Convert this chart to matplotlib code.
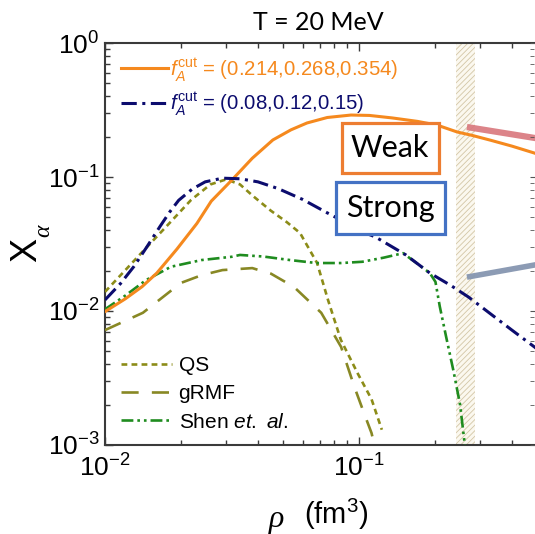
import matplotlib
matplotlib.use("Agg")
import matplotlib.pyplot as plt
from matplotlib.patches import Rectangle
from matplotlib.ticker import LogLocator, NullFormatter

# ---------------- data ----------------
rho_weak = [0.0100, 0.0120, 0.0140, 0.0160, 0.0192, 0.0230, 0.0262, 0.0316, 0.0380, 0.0458,
            0.0540, 0.0624, 0.0750, 0.0930, 0.1100, 0.1350, 0.1700, 0.2030, 0.2430, 0.2800,
            0.3300, 0.4000, 0.4900, 0.6000]
X_weak = [0.0099, 0.0123, 0.0152, 0.0192, 0.0290, 0.0450, 0.0660, 0.0950, 0.1380, 0.1890,
          0.2250, 0.2530, 0.2780, 0.2900, 0.2880, 0.2760, 0.2600, 0.2440, 0.2170, 0.2040,
          0.1880, 0.1700, 0.1510, 0.1300]

rho_strong = [0.0100, 0.0115, 0.0130, 0.0146, 0.0165, 0.0180, 0.0195, 0.0220, 0.0248, 0.0290,
              0.0340, 0.0400, 0.0480, 0.0600, 0.0750, 0.0900, 0.1030, 0.1160, 0.1530, 0.1900,
              0.2300, 0.2700, 0.3300, 0.4000, 0.4900, 0.6000]
X_strong = [0.0121, 0.0160, 0.0215, 0.0300, 0.0430, 0.0550, 0.0670, 0.0810, 0.0920, 0.0980,
            0.0970, 0.0920, 0.0820, 0.0680, 0.0540, 0.0450, 0.0390, 0.0357, 0.0262, 0.0192,
            0.0155, 0.0127, 0.0095, 0.0072, 0.0054, 0.0040]

rho_qs = [0.0100, 0.0120, 0.0145, 0.0170, 0.0195, 0.0218, 0.0260, 0.0300, 0.0340, 0.0383,
          0.0450, 0.0520, 0.0586, 0.0684, 0.0755, 0.0848, 0.0990, 0.1120, 0.1230]
X_qs = [0.0139, 0.0201, 0.0295, 0.0406, 0.0536, 0.0673, 0.0880, 0.0960, 0.0880, 0.0720,
        0.0560, 0.0460, 0.0382, 0.0228, 0.0121, 0.0061, 0.0034, 0.0022, 0.0013]

rho_grmf = [0.0100, 0.0141, 0.0199, 0.0240, 0.0290, 0.0380, 0.0450, 0.0555, 0.0710, 0.0850,
            0.0960, 0.1050, 0.1120, 0.1150]
X_grmf = [0.0072, 0.0097, 0.0162, 0.0185, 0.0202, 0.0209, 0.0190, 0.0151, 0.0097, 0.0054,
          0.0027, 0.0017, 0.00123, 0.00100]

rho_shen = [0.0100, 0.0120, 0.0145, 0.0182, 0.0240, 0.0316, 0.0340, 0.0420, 0.0535, 0.0680,
            0.0850, 0.1030, 0.1250, 0.1490, 0.1700, 0.1900, 0.2000, 0.2080, 0.2200, 0.2360,
            0.2500, 0.2610]
X_shen = [0.0103, 0.0130, 0.0170, 0.0214, 0.0240, 0.0254, 0.0262, 0.0255, 0.0240, 0.0228,
          0.0228, 0.0233, 0.0250, 0.0270, 0.0225, 0.0192, 0.0165, 0.0108, 0.0065, 0.0035,
          0.0020, 0.0010]

band_rho = (0.241, 0.286)            # hatched density band
link_pink_rho = [0.266, 0.60]
link_pink_X = [0.236, 0.184]
link_gray_rho = [0.266, 0.60]
link_gray_X = [0.0179, 0.0236]

x_major_ticks = [1e-2, 1e-1]
label_weak = r"$f_A^{\mathrm{cut}}$ = (0.214,0.268,0.354)"
label_strong = r"$f_A^{\mathrm{cut}}$ = (0.08,0.12,0.15)"
label_qs = "QS"
label_grmf = "gRMF"
label_shen = r"Shen $\mathit{et.\ al.}$"
title_text = "T = 20 MeV"

# ---------------- style ----------------
plt.rcParams["font.family"] = ["Liberation Sans", "DejaVu Sans"]
plt.rcParams["mathtext.fontset"] = "custom"
plt.rcParams["mathtext.rm"] = "Liberation Sans"
plt.rcParams["mathtext.it"] = "Liberation Sans:italic"
plt.rcParams["mathtext.bf"] = "Liberation Sans:bold"
plt.rcParams["hatch.linewidth"] = 0.6

C_ORANGE = "#f5891e"
C_NAVY = "#0c0c6e"
C_QS = "#8c8c18"
C_GRMF = "#888824"
C_SHEN = "#1f8c1f"
C_SPINE = "#3a3a3a"

W, H = 535, 534
fig = plt.figure(figsize=(W / 100, H / 100), dpi=100)
ax = fig.add_axes([105 / W, 89 / H, 508 / W, 402 / H])
ax.set_xscale("log")
ax.set_yscale("log")
ax.set_xlim(1e-2, 1e0)
ax.set_ylim(1e-3, 1e0)

ax.axvspan(band_rho[0], band_rho[1], facecolor="#fbf8ef", edgecolor="#d3c6a6",
           hatch="//////", linewidth=0, zorder=1)

l1, = ax.plot(rho_weak, X_weak, color=C_ORANGE, lw=2.2, zorder=4, label=label_weak)
l2, = ax.plot(rho_strong, X_strong, color=C_NAVY, lw=2.2, zorder=4,
              linestyle=(0, (5.0, 1.8, 1.0, 1.8)), label=label_strong)
l3, = ax.plot(rho_qs, X_qs, color=C_QS, lw=1.9, zorder=3,
              linestyle=(0, (2.2, 1.6)), label=label_qs)
l4, = ax.plot(rho_grmf, X_grmf, color=C_GRMF, lw=1.9, zorder=3,
              linestyle=(0, (6.5, 5.0)), label=label_grmf)
l5, = ax.plot(rho_shen, X_shen, color=C_SHEN, lw=1.9, zorder=3,
              linestyle=(0, (4.5, 1.5, 1.0, 1.5, 1.0, 1.5)), label=label_shen)

ax.plot(link_pink_rho, link_pink_X, color="#d9777c", lw=4.5, alpha=0.9,
        solid_capstyle="butt", zorder=5)
ax.plot(link_gray_rho, link_gray_X, color="#8696b0", lw=4.0, alpha=0.95,
        solid_capstyle="butt", zorder=5)

for s in ax.spines.values():
    s.set_color(C_SPINE)
    s.set_linewidth(1.5)
ax.set_xticks(x_major_ticks)
ax.xaxis.set_minor_locator(LogLocator(base=10, subs=range(2, 10), numticks=20))
ax.yaxis.set_minor_locator(LogLocator(base=10, subs=range(2, 10), numticks=20))
ax.xaxis.set_minor_formatter(NullFormatter())
ax.yaxis.set_minor_formatter(NullFormatter())
ax.tick_params(which="both", direction="in", top=True, right=False, color=C_SPINE,
               labelsize=19, width=1.0)
ax.tick_params(which="major", length=6)
ax.tick_params(which="minor", length=3.5)
ax.tick_params(axis="y", which="major", pad=4)
ax.tick_params(axis="x", which="major", pad=7)

leg1 = ax.legend(handles=[l1, l2], loc="upper left", bbox_to_anchor=(0.032, 0.968),
                 frameon=False, fontsize=14.7, handlelength=2.3, handletextpad=0.1,
                 labelspacing=0.36, borderpad=0, borderaxespad=0)
for t, c in zip(leg1.get_texts(), [C_ORANGE, C_NAVY]):
    t.set_color(c)
ax.add_artist(leg1)
ax.legend(handles=[l3, l4, l5], loc="lower left", bbox_to_anchor=(0.032, 0.033),
          frameon=False, fontsize=15, handlelength=2.45, handletextpad=0.3,
          labelspacing=0.45, borderpad=0, borderaxespad=0)

# right-edge neighbouring panel ticks
ax2 = fig.add_axes([530 / W, 89 / H, 0.2, 402 / H])
ax2.set_yscale("log")
ax2.set_ylim(1e-3, 1e0)
ax2.patch.set_visible(False)
for s in ax2.spines.values():
    s.set_visible(False)
ax2.set_xticks([])
ax2.tick_params(which="both", direction="in", left=True, labelleft=False, color="#555555")
ax2.tick_params(which="major", length=6)
ax2.tick_params(which="minor", length=3)

# Weak / Strong boxes
fig.patches.append(Rectangle((342 / W, 1 - 173 / H), 97 / W, 50 / H, transform=fig.transFigure,
                             facecolor="white", edgecolor="#ed7d31", lw=2.3, zorder=6))
fig.patches.append(Rectangle((336 / W, 1 - 234 / H), 109 / W, 52 / H, transform=fig.transFigure,
                             facecolor="white", edgecolor="#4472c4", lw=2.3, zorder=6))
fig.text(390 / W, 1 - 148 / H, "Weak", ha="center", va="center", fontsize=22,
         family="Lato", color="black", zorder=7)
fig.text(390 / W, 1 - 208 / H, "Strong", ha="center", va="center", fontsize=22,
         family="Lato", color="black", zorder=7)

# title and axis labels
fig.text(318 / W, 1 - 22 / H, title_text, ha="center", va="center", fontsize=18, family="Lato")
fig.text(27 / W, 1 - 250 / H, "X", rotation=90, ha="center", va="center", fontsize=26)
fig.text(44 / W, 1 - 231 / H, "α", rotation=90, ha="center", va="center", fontsize=17,
         family="Liberation Serif", style="italic")
fig.text(276 / W, 1 - 520 / H, "ρ", ha="center", va="center", fontsize=23,
         family="Liberation Serif", style="italic")
fig.text(336 / W, 1 - 514 / H, r"(fm$^{3}$)", ha="center", va="center", fontsize=21)

fig.savefig("out.png", dpi=100)
